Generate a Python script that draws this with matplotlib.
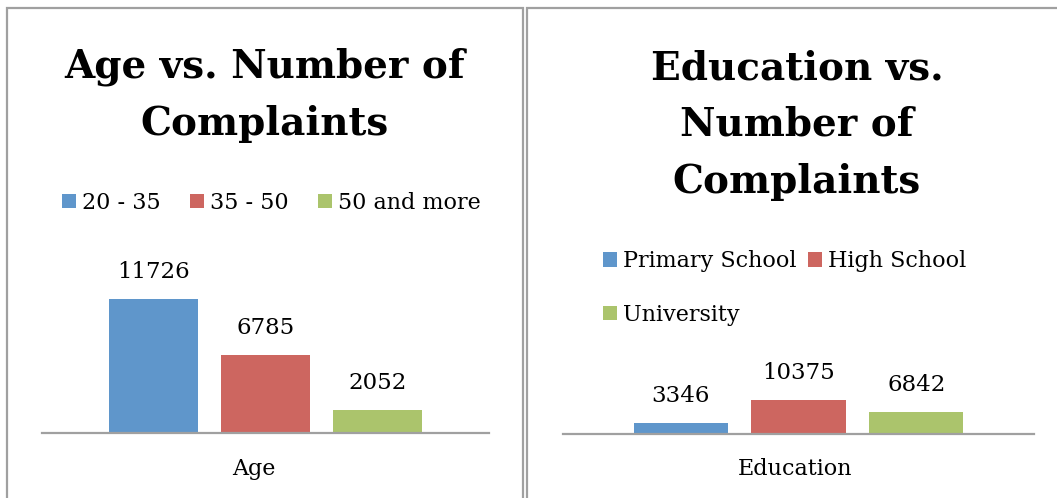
import matplotlib
matplotlib.use("Agg")
import matplotlib.pyplot as plt
from matplotlib.patches import Rectangle

# data
age_groups = ["20 - 35", "35 - 50", "50 and more"]
age_counts = [11726, 6785, 2052]
edu_groups = ["Primary School", "High School", "University"]
edu_counts = [3346, 10375, 6842]
colors = ["#5F96CB", "#CD6660", "#ABC46C"]

plt.rcParams["font.family"] = ["DejaVu Serif"]

W, H = 1057, 498
fig = plt.figure(figsize=(W / 100, H / 100), dpi=100)


def px_axes(x0, x1, y_top, y_bot):
    # pixel box (from top-left) -> figure fraction axes
    return fig.add_axes([x0 / W, 1 - y_bot / H, (x1 - x0) / W, (y_bot - y_top) / H])


def draw_panel(ax, groups, counts, px_per_unit, ymax):
    bars = []
    for i, (g, c) in enumerate(zip(groups, counts)):
        bars.append(ax.bar(i - 1, c, width=0.8, color=colors[i], label=g))
        ax.text(i - 1, c + 16 / px_per_unit, str(c), ha="center", va="bottom",
                fontsize=16.5, clip_on=False)
    ax.set_xlim(-2, 2)
    ax.set_ylim(0, ymax)
    for s in ["top", "left", "right"]:
        ax.spines[s].set_visible(False)
    ax.spines["bottom"].set_color("#a0a0a0")
    ax.spines["bottom"].set_linewidth(1.6)
    ax.set_xticks([])
    ax.set_yticks([])
    ax.patch.set_alpha(0)
    return bars


# left panel: baseline y=433, scale ~0.01143 px/unit
ymax = 14000
h1 = ymax * 0.01143
ax1 = px_axes(42, 489, 433 - h1, 433)
bars1 = draw_panel(ax1, age_groups, age_counts, 0.01143, ymax)
h2 = ymax * 0.00328
ax2 = px_axes(563, 1034, 434 - h2, 434)
bars2 = draw_panel(ax2, edu_groups, edu_counts, 0.00328, ymax)

# category labels
fig.text(254 / W, 1 - 469 / H, "Age", ha="center", va="center", fontsize=16)
fig.text(795 / W, 1 - 469 / H, "Education", ha="center", va="center", fontsize=16)

# titles
fig.text(265 / W, 1 - 95 / H, "Age vs. Number of\nComplaints", ha="center", va="center",
         fontsize=28, fontweight="bold", linespacing=1.62)
fig.text(797 / W, 1 - 125 / H, "Education vs.\nNumber of\nComplaints", ha="center",
         va="center", fontsize=28, fontweight="bold", linespacing=1.62)

# legends
ax1.legend(loc="center left", bbox_to_anchor=(62 / W, 1 - 203 / H),
           bbox_transform=fig.transFigure, ncol=3, frameon=False, fontsize=16,
           handlelength=0.62, handleheight=0.62, handletextpad=0.3, columnspacing=1.3,
           borderaxespad=0, borderpad=0)
# row-wise order: Primary School, High School / University
order = [0, 2, 1]
ax2.legend([bars2[i] for i in order], [edu_groups[i] for i in order],
           loc="center left", bbox_to_anchor=(603 / W, 1 - 288 / H),
           bbox_transform=fig.transFigure, ncol=2, frameon=False, fontsize=16,
           handlelength=0.62, handleheight=0.62, handletextpad=0.3, columnspacing=0.5,
           labelspacing=1.4, borderaxespad=0, borderpad=0)

# panel borders
for x0, x1 in [(7, 523), (527, 1065)]:
    fig.patches.append(Rectangle((x0 / W, -0.1), (x1 - x0) / W, 1.1 - 8 / H,
                                 transform=fig.transFigure, fill=False,
                                 edgecolor="#a0a0a0", linewidth=1.6))

fig.savefig("out.png", dpi=100)
